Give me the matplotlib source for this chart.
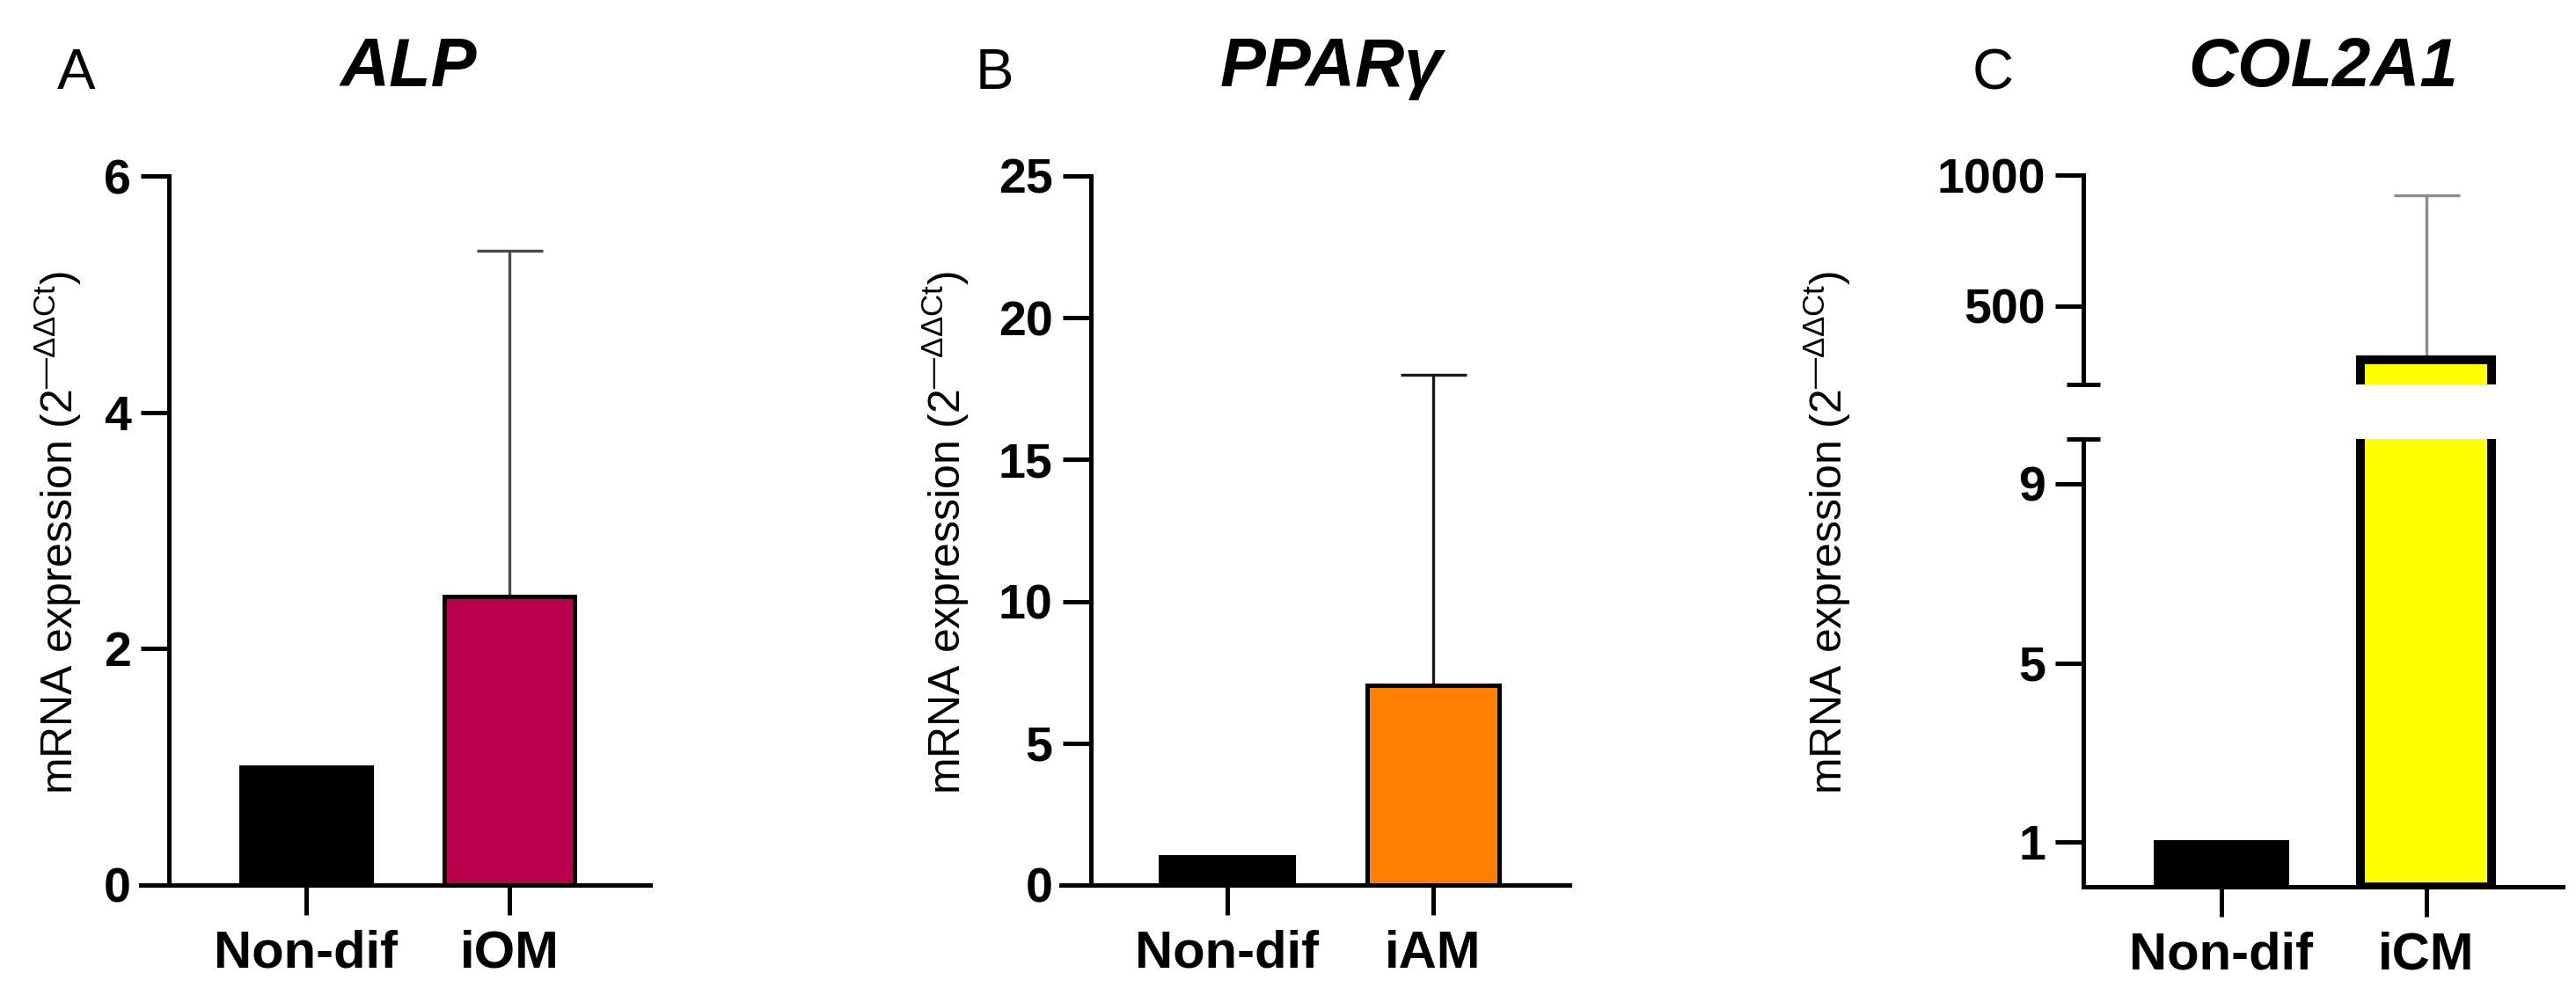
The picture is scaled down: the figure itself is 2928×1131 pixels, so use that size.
import matplotlib
matplotlib.use("Agg")
import matplotlib.pyplot as plt

plt.rcParams['font.family'] = ['Liberation Sans', 'DejaVu Sans']
plt.rcParams['mathtext.fontset'] = 'custom'
plt.rcParams['mathtext.rm'] = 'Liberation Sans'
plt.rcParams['mathtext.it'] = 'Liberation Sans:italic'
plt.rcParams['mathtext.bf'] = 'Liberation Sans:bold'

# ---------------- data ----------------
panel_letters = ["A", "B", "C"]
genes = ["ALP", "PPARγ", "COL2A1"]

categories_A = ["Non-dif", "iOM"]
means_A = [1.0, 2.44]
sd_A = [0.0, 2.93]
yticks_A = [0, 2, 4, 6]

categories_B = ["Non-dif", "iAM"]
means_B = [1.0, 7.05]
sd_B = [0.0, 10.93]
yticks_B = [0, 5, 10, 15, 20, 25]

categories_C = ["Non-dif", "iCM"]
means_C = [1.0, 295.0]
sd_C = [0.0, 627.0]
yticks_C_low = [1, 5, 9]
yticks_C_high = [500, 1000]

ylabel_text = r"mRNA expression (2$^{\mathregular{—ΔΔCt}}$)"

# ---------------- layout ----------------
W, H = 2928, 1131
fig = plt.figure(figsize=(W / 100, H / 100), dpi=100)

LW = 3.6
BAR_W = 0.64
YTICK_FS = 40
XTICK_FS = 43


def px_axes(x0, x1, y0, y1):
    return fig.add_axes([x0 / W, 1 - y1 / H, (x1 - x0) / W, (y1 - y0) / H])


def style(ax, spine_x, xlim, ylim):
    ax.set_xlim(*xlim)
    ax.set_ylim(*ylim)
    for s in ['top', 'right']:
        ax.spines[s].set_visible(False)
    ax.spines['left'].set_position(('data', spine_x))
    ax.spines['left'].set_linewidth(LW)
    ax.spines['bottom'].set_linewidth(LW)
    ax.spines['left'].set_zorder(5)
    ax.spines['bottom'].set_zorder(5)
    ax.tick_params(axis='y', length=23, width=LW, pad=8, labelsize=YTICK_FS)
    ax.tick_params(axis='x', length=24.5, width=LW, pad=12, labelsize=XTICK_FS)
    ax.patch.set_visible(False)


def draw_bars(ax, means, colors, edge_lws):
    x = list(range(len(means)))
    ax.bar(x, means, width=BAR_W, color=colors, edgecolor='black',
           linewidth=edge_lws, zorder=3)


def draw_err(ax, xpos, mean, sd, color, lw=2.4):
    ax.errorbar([xpos], [mean], yerr=[[0], [sd]], fmt='none', ecolor=color,
                elinewidth=lw, capsize=27, capthick=lw, zorder=2)


def set_xcats(ax, cats):
    ax.set_xticks(range(len(cats)), labels=cats, fontweight='bold')


def set_yt(ax, ticks):
    ax.set_yticks(ticks, labels=[str(t) for t in ticks], fontweight='bold')


# ---- Panel A ----
axA = px_axes(160, 739, 200, 1006)
style(axA, -0.675, (-0.814, 1.693), (0, 6))
draw_err(axA, 1, means_A[1], sd_A[1], '#4a4a4a')
draw_bars(axA, means_A, ['black', '#BA004C'], [LW, LW])
set_xcats(axA, categories_A)
set_yt(axA, yticks_A)

# ---- Panel B ----
axB = px_axes(1206, 1784, 200, 1006)
style(axB, -0.661, (-0.804, 1.661), (0, 25))
draw_err(axB, 1, means_B[1], sd_B[1], '#1a1a1a')
draw_bars(axB, means_B, ['black', '#FF8000'], [LW, LW])
set_xcats(axB, categories_B)
set_yt(axB, yticks_B)

# ---- Panel C (broken axis) ----
c_xlim = (-0.672, 1.667)
axCh = px_axes(2368, 2913, 199, 437)
style(axCh, -0.672, c_xlim, (200, 1000))
axCh.spines['bottom'].set_visible(False)
axCh.tick_params(axis='x', bottom=False, labelbottom=False)
draw_err(axCh, 1, means_C[1], sd_C[1], '#8c8c8c')
draw_bars(axCh, means_C, ['black', '#FFFF00'], [LW, 7.2])
set_yt(axCh, yticks_C_high)

axCl = px_axes(2368, 2913, 499, 1008)
style(axCl, -0.672, c_xlim, (0, 10))
draw_bars(axCl, means_C, ['black', '#FFFF00'], [LW, 7.2])
set_xcats(axCl, categories_C)
set_yt(axCl, yticks_C_low)

# break marks on the y axis
bm = 0.082
axCh.plot([c_xlim[0] - bm, c_xlim[0] + bm], [200, 200], color='black', lw=LW,
          clip_on=False, solid_capstyle='butt', zorder=6)
axCl.plot([c_xlim[0] - bm, c_xlim[0] + bm], [10, 10], color='black', lw=LW,
          clip_on=False, solid_capstyle='butt', zorder=6)

# ---- titles, letters, y labels ----
title_x = [464, 1513, 2641]
letter_x = [87, 1130, 2265]
ylabel_x = [66, 1075, 2077]
for i in range(3):
    fig.text(title_x[i] / W, 1 - 98 / H, genes[i], ha='center', va='baseline',
             fontsize=56, fontweight='bold', fontstyle='italic')
    fig.text(letter_x[i] / W, 1 - 101 / H, panel_letters[i], ha='center',
             va='baseline', fontsize=47)
    fig.text(ylabel_x[i] / W, 1 - 605 / H, ylabel_text, rotation=90,
             ha='center', va='center', fontsize=36)

fig.savefig("out.png", dpi=100, facecolor='white')
